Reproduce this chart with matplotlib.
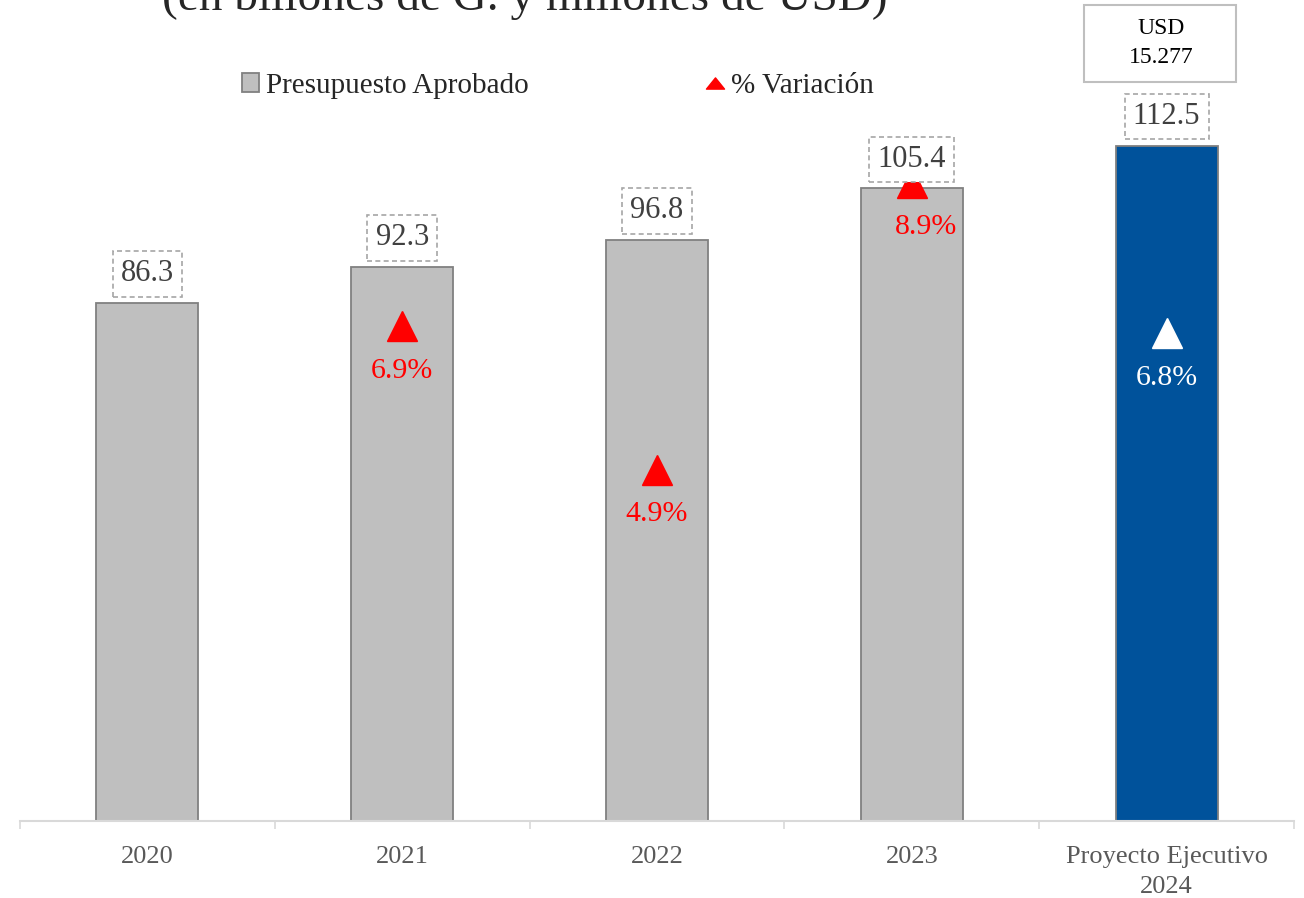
import matplotlib
matplotlib.use("Agg")
import matplotlib.pyplot as plt
from matplotlib.patches import Patch, Rectangle
from matplotlib.lines import Line2D
from matplotlib.path import Path

plt.rcParams['font.family'] = ['Liberation Serif', 'DejaVu Serif']

categories = ["2020", "2021", "2022", "2023", "Proyecto Ejecutivo\n2024"]
budget = [86.3, 92.3, 96.8, 105.4, 112.5]
variation = [None, 6.9, 4.9, 8.9, 6.8]
variation_labels = ["", "6.9%", "4.9%", "8.9%", "6.8%"]
usd_label = "USD\n15.277"
title = "(en billones de G. y millones de USD)"

W, H = 1304, 898
fig = plt.figure(figsize=(W / 100, H / 100), dpi=100)
ax = fig.add_axes([20 / W, (H - 821) / H, (1294 - 20) / W, 821 / H])
ax2 = ax.twinx()

x = list(range(len(categories)))
colors = ["#bfbfbf"] * 4 + ["#00529b"]
ax.bar(x, budget, width=0.4, color=colors, edgecolor="#808080", linewidth=1.3, zorder=2)
ax.set_xlim(-0.5, len(categories) - 0.5)
ax.set_ylim(0, 136.8)
ax2.set_ylim(0, 11.45)

# % variation markers and labels (secondary axis)
for i, (v, lab) in enumerate(zip(variation, variation_labels)):
    if v is None:
        continue
    c = "white" if i == 4 else "red"
    dx = 10 if i == 3 else 0
    ax2.plot([i], [v], marker="^", markersize=21, color=c, linestyle="none", zorder=3)
    ax2.annotate(lab, (i, v), xytext=(dx, -32), textcoords="offset points",
                 ha="center", va="center", fontsize=21.5, color=c, zorder=4)

# value labels with dashed boxes (drawn on top)
for i, v in enumerate(budget):
    ax2.annotate(f"{v:.1f}", (i, v), xycoords=ax.transData, xytext=(0, 21),
                 textcoords="offset points", ha="center", va="center", fontsize=22,
                 color="#404040", zorder=6,
                 bbox=dict(boxstyle="square,pad=0.27", fc="white", ec="#a6a6a6",
                           ls=(0, (3, 2)), lw=1.2))

# USD box
fig.patches.append(Rectangle((1084 / W, 1 - 82 / H), 152 / W, 77 / H,
                             transform=fig.transFigure, fc="white", ec="#bfbfbf",
                             lw=1.5, zorder=5))
fig.text(1161 / W, 1 - 43 / H, usd_label, ha="center", va="center", fontsize=17,
         color="black", linespacing=1.5, zorder=6)

for a in (ax, ax2):
    for s in ["top", "right", "left"]:
        a.spines[s].set_visible(False)
    a.set_yticks([])
ax2.spines["bottom"].set_visible(False)
ax.spines["bottom"].set_color("#d9d9d9")
ax.spines["bottom"].set_linewidth(1.5)

ax.set_xticks([i - 0.5 for i in range(len(categories) + 1)])
ax.set_xticklabels([])
ax.tick_params(axis="x", which="major", length=6, color="#d9d9d9", width=1.2)
ax.set_xticks(x, minor=True)
ax.set_xticklabels(categories, minor=True, fontsize=19, color="#595959", linespacing=1.45)
ax.tick_params(axis="x", which="minor", length=0, pad=18)

flat_tri = Path([(-1, -0.62), (1, -0.62), (0, 0.62), (-1, -0.62)],
                [Path.MOVETO, Path.LINETO, Path.LINETO, Path.CLOSEPOLY])
handles = [Patch(fc="#bfbfbf", ec="#808080", lw=1.3),
           Line2D([], [], marker=flat_tri, color="red", linestyle="none", markersize=13)]
fig.legend(handles, ["Presupuesto Aprobado", "% Variación"], loc="center",
           bbox_to_anchor=(558 / W, 1 - 86 / H), ncol=2, frameon=False,
           fontsize=21, columnspacing=6.1, handlelength=0.58, handleheight=0.6,
           handletextpad=0.25, labelcolor="#262626", borderpad=0, borderaxespad=0)

fig.text(525 / W, 1 - 10 / H, title, ha="center", va="baseline", fontsize=34, color="#262626")

fig.savefig("out.png", dpi=100)
